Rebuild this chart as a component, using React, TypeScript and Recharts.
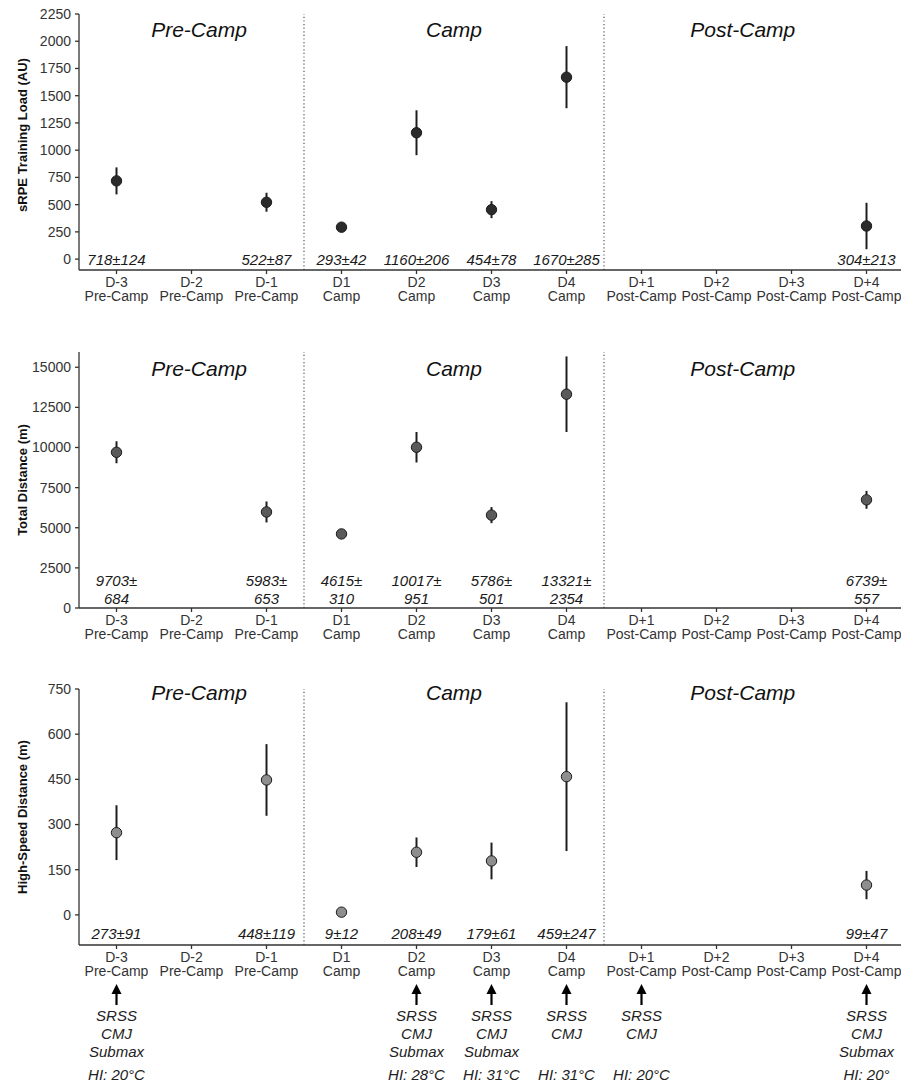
import React from "react";
import {
  ScatterChart,
  Scatter,
  XAxis,
  YAxis,
  ErrorBar,
  ReferenceLine,
  ReferenceDot,
} from "recharts";

const FONT = '"Liberation Sans", Arial, Helvetica, sans-serif';

// categories
const days = ["D-3", "D-2", "D-1", "D1", "D2", "D3", "D4", "D+1", "D+2", "D+3", "D+4"];
const phaseOfDay = [
  "Pre-Camp", "Pre-Camp", "Pre-Camp",
  "Camp", "Camp", "Camp", "Camp",
  "Post-Camp", "Post-Camp", "Post-Camp", "Post-Camp",
];
const phaseTitles = ["Pre-Camp", "Camp", "Post-Camp"];
const phaseTitleX = [2.1, 5.5, 9.35];
const phaseBreaks = [3.5, 7.5];

// sRPE training load (AU)
const srpeMean = [718, null, 522, 293, 1160, 454, 1670, null, null, null, 304];
const srpeSd = [124, null, 87, 42, 206, 78, 285, null, null, null, 213];
const srpeTicks = [0, 250, 500, 750, 1000, 1250, 1500, 1750, 2000, 2250];

// total distance (m)
const distMean = [9703, null, 5983, 4615, 10017, 5786, 13321, null, null, null, 6739];
const distSd = [684, null, 653, 310, 951, 501, 2354, null, null, null, 557];
const distTicks = [0, 2500, 5000, 7500, 10000, 12500, 15000];

// high-speed distance (m)
const hsdMean = [273, null, 448, 9, 208, 179, 459, null, null, null, 99];
const hsdSd = [91, null, 119, 12, 49, 61, 247, null, null, null, 47];
const hsdTicks = [0, 150, 300, 450, 600, 750];

// testing annotations under the bottom panel
const testsOfDay = [
  ["SRSS", "CMJ", "Submax"], [], [], [],
  ["SRSS", "CMJ", "Submax"], ["SRSS", "CMJ", "Submax"], ["SRSS", "CMJ"],
  ["SRSS", "CMJ"], [], [], ["SRSS", "CMJ", "Submax"],
];
const heatIndex = ["HI: 20°C", "", "", "", "HI: 28°C", "HI: 31°C", "HI: 31°C", "HI: 20°C", "", "", "HI: 20°"];

const xTicks = days.map((_, i) => i + 1);

function buildPoints(mean: (number | null)[], sd: (number | null)[]) {
  return days
    .map((d, i) => ({ x: i + 1, y: mean[i], sd: sd[i], day: d }))
    .filter((p) => p.y !== null);
}

function buildLabels(mean: (number | null)[], sd: (number | null)[], labelY: number) {
  return days
    .map((d, i) => ({ x: i + 1, y: labelY, m: mean[i], s: sd[i] }))
    .filter((p) => p.m !== null);
}

const XTick = (props: any) => {
  const { x, y, payload, annotate } = props;
  const i = payload.value - 1;
  const tests: string[] = annotate ? testsOfDay[i] : [];
  return (
    <g transform={`translate(${x},${y})`}>
      <text textAnchor="middle" fontSize={14} fill="#333" fontFamily={FONT}>
        <tspan x={0} y={10.5}>{days[i]}</tspan>
        <tspan x={0} y={24.5}>{phaseOfDay[i]}</tspan>
      </text>
      {tests.length > 0 && (
        <g>
          <line x1={0} y1={40} x2={0} y2={54} stroke="#000" strokeWidth={2.2} />
          <path d="M0,33 L-5,43 L5,43 Z" fill="#000" />
          {tests.map((t, k) => (
            <text
              key={t}
              x={0}
              y={70 + k * 18}
              textAnchor="middle"
              fontSize={15}
              fontStyle="italic"
              fill="#222"
              fontFamily={FONT}
            >
              {t}
            </text>
          ))}
          <text x={0} y={129} textAnchor="middle" fontSize={15} fontStyle="italic" fill="#222" fontFamily={FONT}>
            {heatIndex[i]}
          </text>
        </g>
      )}
    </g>
  );
};

interface PanelProps {
  height: number;
  top: number;
  xHeight: number;
  mean: (number | null)[];
  sd: (number | null)[];
  domain: [number, number];
  ticks: number[];
  yTitle: string;
  titleShift: number;
  fill: string;
  labelY: number;
  twoLine: boolean;
  titleY: number;
  annotate?: boolean;
}

function Panel(p: PanelProps) {
  const points = buildPoints(p.mean, p.sd);
  const labels = buildLabels(p.mean, p.sd, p.labelY);

  const ValueLabel = (s: any) => {
    const { cx, cy, payload } = s;
    const common = {
      textAnchor: "middle" as const,
      fontSize: 15,
      fontStyle: "italic",
      fill: "#1a1a1a",
      fontFamily: FONT,
      dominantBaseline: "central" as const,
    };
    if (p.twoLine) {
      return (
        <g>
          <text x={cx} y={cy - 9} {...common}>{`${payload.m}±`}</text>
          <text x={cx} y={cy + 9} {...common}>{`${payload.s}`}</text>
        </g>
      );
    }
    return <text x={cx} y={cy} {...common}>{`${payload.m}±${payload.s}`}</text>;
  };

  const YTitle = (lp: any) => {
    const vb = lp.viewBox || {};
    const cx = (vb.x ?? 0) + 22;
    const cy = (vb.y ?? 0) + (vb.height ?? 0) / 2 + p.titleShift;
    return (
      <text
        x={cx}
        y={cy}
        transform={`rotate(-90, ${cx}, ${cy})`}
        textAnchor="middle"
        dominantBaseline="central"
        fontSize={13}
        fontWeight="bold"
        fill="#111"
        fontFamily={FONT}
      >
        {p.yTitle}
      </text>
    );
  };

  return (
    <ScatterChart
      width={905}
      height={p.height}
      margin={{ top: p.top, right: 1, bottom: 0, left: 0 }}
    >
      <XAxis
        type="number"
        dataKey="x"
        domain={[0.5, 11.5]}
        ticks={xTicks}
        interval={0}
        allowDataOverflow
        height={p.xHeight}
        tickSize={4}
        tickMargin={2}
        stroke="#333"
        strokeWidth={1.3}
        tickLine={{ stroke: "#333" }}
        tick={<XTick annotate={p.annotate} />}
      />
      <YAxis
        type="number"
        dataKey="y"
        domain={p.domain}
        ticks={p.ticks}
        interval={0}
        allowDataOverflow
        width={79}
        tickSize={4}
        tickMargin={4}
        stroke="#333"
        strokeWidth={1.3}
        tick={{ fontSize: 14, fill: "#333", fontFamily: FONT }}
        label={YTitle}
      />
      {phaseBreaks.map((b) => (
        <ReferenceLine key={b} x={b} stroke="#555" strokeWidth={1.2} strokeDasharray="1.2 2.4" />
      ))}
      {phaseTitles.map((t, i) => (
        <ReferenceDot
          key={t}
          x={phaseTitleX[i]}
          y={p.titleY}
          r={1}
          ifOverflow="visible"
          shape={(s: any) => (
            <text
              x={s.cx}
              y={s.cy}
              textAnchor="middle"
              dominantBaseline="central"
              fontSize={21}
              fontStyle="italic"
              fill="#111"
              fontFamily={FONT}
            >
              {t}
            </text>
          )}
        />
      ))}
      <Scatter data={labels} isAnimationActive={false} shape={ValueLabel} />
      <Scatter
        data={points}
        isAnimationActive={false}
        shape={(s: any) => (
          <circle cx={s.cx} cy={s.cy} r={5.2} fill={p.fill} stroke="#1a1a1a" strokeWidth={1} />
        )}
      >
        <ErrorBar dataKey="sd" direction="y" width={0} stroke="#1e1e1e" strokeWidth={2} />
      </Scatter>
    </ScatterChart>
  );
}

export default function App() {
  return (
    <div
      style={{
        position: "absolute",
        left: 0,
        top: 0,
        width: 901,
        height: 1083,
        overflow: "hidden",
        background: "#fff",
      }}
    >
      <Panel
        height={320}
        top={14}
        xHeight={50}
        mean={srpeMean}
        sd={srpeSd}
        domain={[-100, 2250]}
        ticks={srpeTicks}
        yTitle="sRPE Training Load (AU)"
        titleShift={-7}
        fill="#2b2b2b"
        labelY={0}
        twoLine={false}
        titleY={2110}
      />
      <Panel
        height={330}
        top={32}
        xHeight={42}
        mean={distMean}
        sd={distSd}
        domain={[0, 15950]}
        ticks={distTicks}
        yTitle="Total Distance (m)"
        titleShift={0}
        fill="#5a5a5a"
        labelY={1130}
        twoLine={true}
        titleY={14900}
      />
      <Panel
        height={433}
        top={39}
        xHeight={138}
        mean={hsdMean}
        sd={hsdSd}
        domain={[-100, 750]}
        ticks={hsdTicks}
        yTitle="High-Speed Distance (m)"
        titleShift={0}
        fill="#8e8e8e"
        labelY={-63}
        twoLine={false}
        titleY={737}
        annotate
      />
    </div>
  );
}
